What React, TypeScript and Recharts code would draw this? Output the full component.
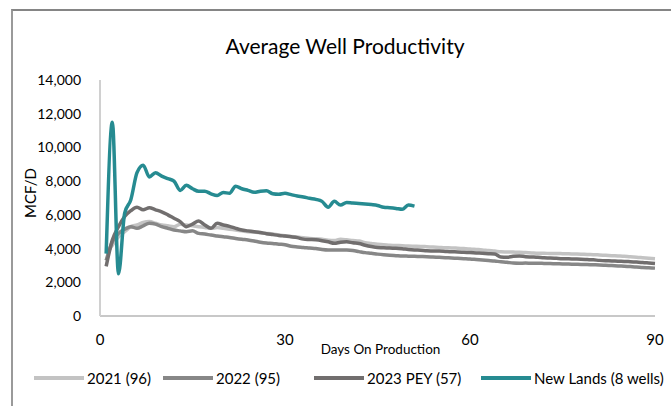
import { LineChart, Line, XAxis, YAxis } from "recharts";

const days = Array.from({ length: 90 }, (_, i) => i + 1);

const newLands = [
  3700, 11500, 2500, 6100, 6900, 8500, 8950, 8250, 8500, 8300,
  8150, 8000, 7450, 7750, 7550, 7400, 7400, 7250, 7150, 7330,
  7280, 7700, 7550, 7450, 7340, 7400, 7430, 7250, 7220, 7280,
  7200, 7120, 7060, 6980, 6920, 6800, 6450, 6800, 6580, 6740,
  6700, 6680, 6650, 6610, 6560, 6450, 6420, 6380, 6330, 6580,
  6520,
];

const y2021 = [
  3700, 4200, 4700, 5000, 5300, 5400, 5550, 5600, 5500, 5400,
  5350, 5300, 5450, 5400, 5350, 5300, 5250, 5200, 5250, 5200,
  5150, 5100, 5050, 5000, 4980, 4940, 4900, 4860, 4800, 4760,
  4720, 4680, 4640, 4600, 4580, 4550, 4500, 4480, 4550, 4520,
  4480, 4450, 4350, 4300, 4250, 4230, 4200, 4180, 4170, 4150,
  4140, 4130, 4110, 4090, 4070, 4050, 4040, 4020, 4000, 3980,
  3950, 3920, 3880, 3850, 3810, 3800, 3790, 3780, 3760, 3740,
  3720, 3720, 3710, 3710, 3700, 3690, 3680, 3670, 3650, 3640,
  3620, 3600, 3580, 3560, 3540, 3510, 3490, 3460, 3430, 3400,
];

const y2022 = [
  3300, 4400, 4900, 5150, 5300, 5200, 5350, 5500, 5450, 5300,
  5200, 5100, 5050, 5000, 5050, 4900, 4860, 4800, 4750, 4700,
  4660, 4600, 4550, 4510, 4450, 4380, 4330, 4300, 4260, 4230,
  4140, 4100, 4070, 4030, 4000, 3940, 3910, 3920, 3920, 3910,
  3880, 3820, 3760, 3720, 3670, 3630, 3600, 3580, 3560, 3550,
  3540, 3530, 3520, 3500, 3480, 3460, 3440, 3420, 3400, 3380,
  3350, 3320, 3290, 3260, 3220, 3190, 3140, 3130, 3140, 3130,
  3130, 3120, 3110, 3100, 3090, 3080, 3070, 3060, 3050, 3040,
  3030, 3010, 2990, 2970, 2950, 2930, 2910, 2880, 2860, 2840,
];

const y2023 = [
  2950, 4500, 5300, 5900, 6250, 6450, 6300, 6420, 6300, 6180,
  6000, 5800, 5600, 5300, 5450, 5630, 5400, 5200, 5500, 5400,
  5320, 5200, 5100, 5050, 5000, 4950, 4880, 4830, 4780, 4740,
  4700, 4650, 4560, 4540, 4520, 4470, 4400, 4310, 4380, 4400,
  4340, 4300, 4200, 4120, 4060, 4050, 4030, 4020, 3990, 3950,
  3920, 3900, 3870, 3860, 3850, 3830, 3810, 3800, 3780, 3760,
  3740, 3720, 3700, 3680, 3500, 3480, 3540, 3560, 3520, 3500,
  3480, 3450, 3440, 3420, 3400, 3390, 3380, 3370, 3350, 3330,
  3300, 3280, 3270, 3250, 3240, 3220, 3200, 3180, 3150, 3120,
];

const xTicks = [0, 30, 60, 90];
const yTicks = [0, 2000, 4000, 6000, 8000, 10000, 12000, 14000];

const series = [
  { key: "y2021", name: "2021 (96)", color: "#c3c3c3" },
  { key: "y2022", name: "2022 (95)", color: "#878787" },
  { key: "y2023", name: "2023 PEY (57)", color: "#716e6e" },
  { key: "newLands", name: "New Lands (8 wells)", color: "#268b91" },
];

// where each legend entry starts
const legendLeft = [34, 163, 314, 481];

const data = days.map((d, i) => ({
  day: d,
  y2021: y2021[i],
  y2022: y2022[i],
  y2023: y2023[i],
  newLands: i < newLands.length ? newLands[i] : null,
}));

const font = "Lato, 'Open Sans', sans-serif";

export default function App() {
  return (
    <div style={{ position: "absolute", left: 0, top: 0, width: 671, height: 406, background: "#fff", fontFamily: font }}>
      <div style={{ position: "absolute", left: 11, top: 9, width: 660, height: 397, borderLeft: "2px solid #9a9a9a", borderTop: "2px solid #858585", boxSizing: "border-box" }} />
      <div style={{ position: "absolute", left: 0, top: 33, width: 690, textAlign: "center", fontSize: 21, color: "#000" }}>
        Average Well Productivity
      </div>
      <div style={{ position: "absolute", left: 0, top: 0 }}>
        <LineChart width={671} height={406} data={data} margin={{ top: 80, right: 16, bottom: 60, left: 0 }}>
          <XAxis
            dataKey="day"
            type="number"
            domain={[0, 90]}
            ticks={xTicks}
            tickLine={false}
            tickSize={0}
            tickMargin={18}
            axisLine={{ stroke: "#c8c8c8", strokeWidth: 2 }}
            tick={{ fill: "#000", fontSize: 15, fontFamily: font }}
            label={{ value: "Days On Production", position: "insideBottom", offset: -8, dx: 3, fill: "#000", fontSize: 13.5, fontFamily: font }}
          />
          <YAxis
            type="number"
            domain={[0, 14000]}
            ticks={yTicks}
            width={100}
            tickLine={false}
            tickSize={0}
            tickMargin={19}
            axisLine={{ stroke: "#d0d0d0", strokeWidth: 2 }}
            tickFormatter={(v: number) => v.toLocaleString("en-US")}
            tick={{ fill: "#000", fontSize: 14, fontFamily: font }}
            label={{ value: "MCF/D", angle: -90, position: "insideLeft", offset: 0, dx: 31, dy: -5, fill: "#000", fontSize: 15, fontFamily: font, style: { textAnchor: "middle" } }}
          />
          {series.map((s) => (
            <Line
              key={s.key}
              type="monotone"
              dataKey={s.key}
              name={s.name}
              stroke={s.color}
              strokeWidth={3.5}
              dot={false}
              connectNulls={false}
              isAnimationActive={false}
            />
          ))}
        </LineChart>
      </div>
      {series.map((s, i) => (
        <div key={s.key} style={{ position: "absolute", left: legendLeft[i], top: 369, display: "flex", alignItems: "center", fontSize: 15, color: "#000", whiteSpace: "nowrap" }}>
          <span style={{ display: "inline-block", width: 50, height: 4, background: s.color, marginRight: 3 }} />
          <span>{s.name}</span>
        </div>
      ))}
    </div>
  );
}
